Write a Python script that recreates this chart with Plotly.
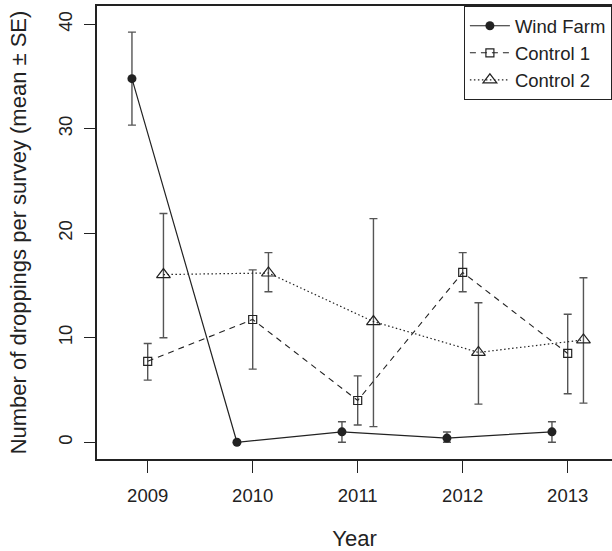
import plotly.graph_objects as go

years = [2009, 2010, 2011, 2012, 2013]

wind_mean = [34.8, 0.0, 1.0, 0.4, 1.0]
wind_hi = [39.25, 0.0, 1.97, 0.99, 1.97]
wind_lo = [30.35, 0.0, 0.0, 0.0, 0.0]

c1_mean = [7.75, 11.75, 4.0, 16.25, 8.5]
c1_hi = [9.45, 16.5, 6.35, 18.15, 12.25]
c1_lo = [5.95, 7.0, 1.65, 14.4, 4.65]

c2_mean = [16.05, 16.2, 11.55, 8.6, 9.8]
c2_hi = [21.9, 18.15, 21.4, 13.35, 15.75]
c2_lo = [10.0, 14.4, 1.5, 3.65, 3.75]

FONT = "Liberation Sans, Arial, sans-serif"
INK = "#222222"
ERR = "#555555"

def err(mean, hi, lo):
    return dict(type="data", symmetric=False,
                array=[h - m for h, m in zip(hi, mean)],
                arrayminus=[m - l for m, l in zip(mean, lo)],
                color=ERR, thickness=1.4, width=4)

dodge = 0.15
fig = go.Figure()
fig.add_trace(go.Scatter(
    x=[y - dodge for y in years], y=wind_mean, name="Wind Farm",
    mode="lines+markers",
    line=dict(color=INK, width=1.2),
    marker=dict(symbol="circle", size=9, color=INK),
    error_y=err(wind_mean, wind_hi, wind_lo)))
fig.add_trace(go.Scatter(
    x=list(years), y=c1_mean, name="Control 1",
    mode="lines+markers",
    line=dict(color=INK, width=1.1, dash="6px,5px"),
    marker=dict(symbol="square-open", size=8, color=INK, line=dict(width=1.2)),
    error_y=err(c1_mean, c1_hi, c1_lo)))
fig.add_trace(go.Scatter(
    x=[y + dodge for y in years], y=c2_mean, name="Control 2",
    mode="lines+markers",
    line=dict(color=INK, width=1.2, dash="1.5px,2.5px"),
    marker=dict(symbol="triangle-up-open", size=12, color=INK, line=dict(width=1.2)),
    error_y=err(c2_mean, c2_hi, c2_lo)))

fig.update_layout(
    width=612, height=551,
    margin=dict(l=97, r=0, t=6, b=92),
    paper_bgcolor="white", plot_bgcolor="white",
    font=dict(family=FONT, size=18.5, color=INK),
    showlegend=True,
    legend=dict(x=(463.7 - 97) / 515, y=1, xanchor="left", yanchor="top",
                bordercolor=INK, borderwidth=1.2, bgcolor="white",
                font=dict(size=18.5), tracegroupgap=0, itemwidth=40),
)
fig.update_xaxes(
    range=[2009 - 50.7 / 105, 2009 - 50.7 / 105 + 515 / 105],
    tickvals=years, ticktext=[str(y) for y in years],
    ticks="outside", ticklen=12, tickwidth=1.2, tickcolor=INK,
    ticklabelstandoff=7,
    showline=True, linecolor=INK, linewidth=1.5, mirror=True,
    showgrid=False, zeroline=False, automargin=False,
    title=dict(text="Year", standoff=28),
)
fig.update_yaxes(
    range=[-1.6, 41.75],
    tickvals=[0, 10, 20, 30, 40],
    ticks="outside", ticklen=11, tickwidth=1.2, tickcolor=INK,
    tickangle=-90, ticklabelstandoff=5,
    showline=True, linecolor=INK, linewidth=1.5, mirror=False,
    showgrid=False, zeroline=False, automargin=False,
    title=dict(text="Number of droppings per survey (mean ± SE)", standoff=22),
)

fig.write_html("out.html", config={"displayModeBar": False},
               post_script="document.body.style.margin='0';")
